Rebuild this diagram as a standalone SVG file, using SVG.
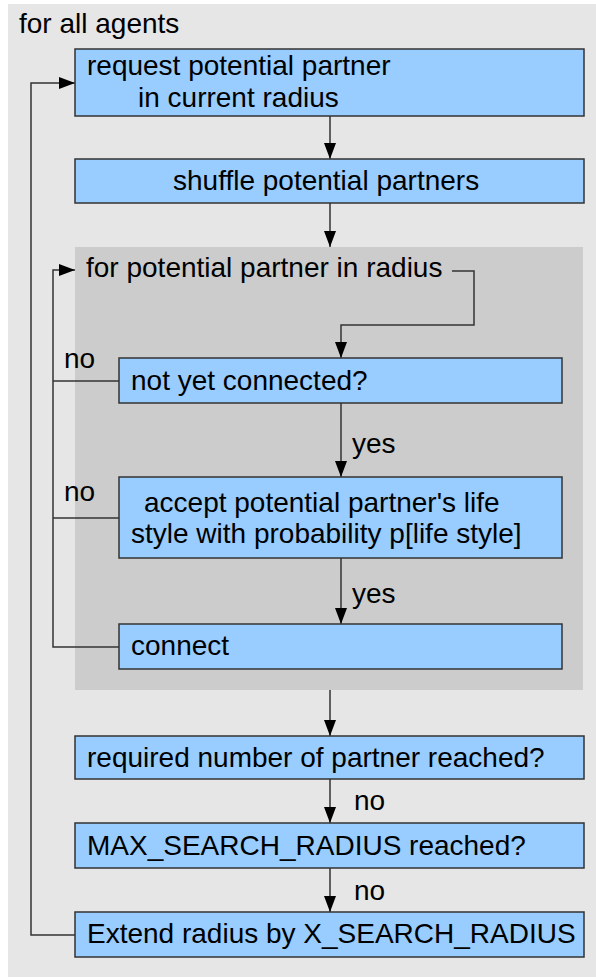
<svg xmlns="http://www.w3.org/2000/svg" width="596" height="977" viewBox="0 0 596 977">
<defs>
<marker id="ah" markerUnits="userSpaceOnUse" markerWidth="16" markerHeight="12" viewBox="0 0 16 12" refX="16" refY="6" orient="auto">
<path d="M0,0 L16,6 L0,12 Z" fill="#000"/>
</marker>
<style>
text{font-family:"Liberation Sans",Arial,sans-serif;font-size:28px;fill:#000}
.box{fill:#99ccff;stroke:#333;stroke-width:1.5}
.ln{fill:none;stroke:#333;stroke-width:1.5}
.ar{fill:none;stroke:#333;stroke-width:1.5;marker-end:url(#ah)}
</style>
</defs>
<rect x="8" y="4" width="588" height="973" fill="#e6e6e6"/>
<text x="19" y="33">for all agents</text>
<rect id="inner" x="75" y="247" width="508" height="443" fill="#cccccc"/>
<text x="86" y="277">for potential partner in radius</text>

<g id="connectors">
<path class="ar" d="M330,116 V159"/>
<path class="ar" d="M330,203 V247"/>
<path class="ar" d="M452,271 H474 V325 H341 V358"/>
<path class="ln" d="M119,381 H53"/>
<path class="ar" d="M341,403 V477"/>
<path class="ln" d="M119,518 H53"/>
<path class="ar" d="M341,558 V624"/>
<path class="ar" d="M119,647 H53 V270 H75"/>
<path class="ar" d="M330,690 V736"/>
<path class="ar" d="M330,779 V823"/>
<path class="ar" d="M330,868 V912"/>
<path class="ar" d="M75,935 H31 V83 H75"/>
<text x="64" y="368">no</text>
<text x="352" y="453">yes</text>
<text x="64" y="501">no</text>
<text x="352" y="603">yes</text>
<text x="354" y="810">no</text>
<text x="354" y="900">no</text>
</g>

<g id="n1"><rect class="box" x="75" y="49" width="509" height="67"/>
<text x="87" y="75">request potential partner</text>
<text x="138" y="107">in current radius</text></g>
<g id="n2"><rect class="box" x="75" y="159" width="509" height="44"/>
<text x="173" y="190">shuffle potential partners</text></g>
<g id="n3"><rect class="box" x="119" y="358" width="443" height="45"/>
<text x="131" y="390">not yet connected?</text></g>
<g id="n4"><rect class="box" x="119" y="477" width="443" height="81"/>
<text x="144" y="512">accept potential partner's life</text>
<text x="131" y="543">style with probability p[life style]</text></g>
<g id="n5"><rect class="box" x="119" y="624" width="443" height="45"/>
<text x="131" y="655">connect</text></g>
<g id="n6"><rect class="box" x="75" y="736" width="509" height="43"/>
<text x="87" y="767">required number of partner reached?</text></g>
<g id="n7"><rect class="box" x="75" y="823" width="509" height="45"/>
<text x="87" y="855">MAX_SEARCH_RADIUS reached?</text></g>
<g id="n8"><rect class="box" x="75" y="912" width="509" height="45"/>
<text x="87" y="943">Extend radius by X_SEARCH_RADIUS</text></g>
</svg>
